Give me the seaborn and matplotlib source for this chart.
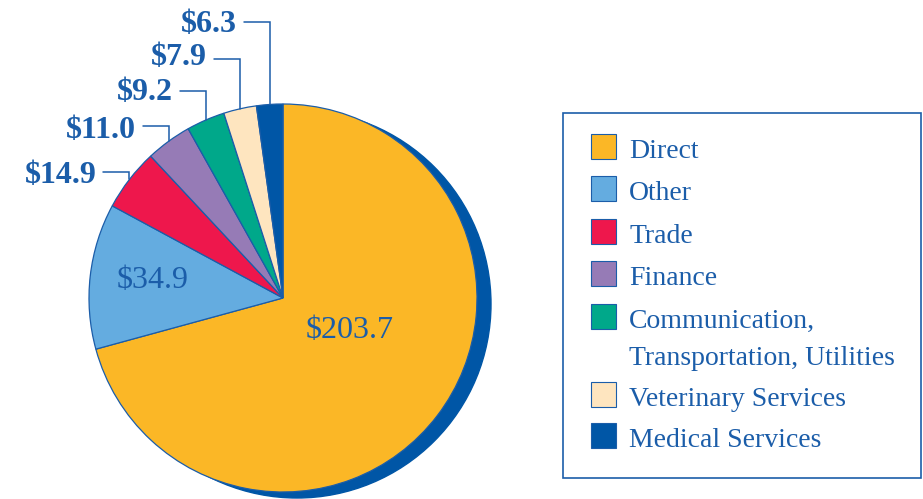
import matplotlib
matplotlib.use("Agg")
import matplotlib.pyplot as plt
from matplotlib.patches import Circle, Rectangle
from matplotlib import font_manager
import numpy as np
import seaborn as sns

# Economic impact by sector (billions of dollars)
sectors = ["Direct", "Other", "Trade", "Finance",
           "Communication, Transportation, Utilities",
           "Veterinary Services", "Medical Services"]
values = [203.7, 34.9, 14.9, 11.0, 9.2, 7.9, 6.3]
value_labels = ["$203.7", "$34.9", "$14.9", "$11.0", "$9.2", "$7.9", "$6.3"]
legend_lines = [["Direct"], ["Other"], ["Trade"], ["Finance"],
                ["Communication,", "Transportation, Utilities"],
                ["Veterinary Services"], ["Medical Services"]]

palette = sns.color_palette(["#FBB726", "#64ACE0", "#EE174C", "#967BB6",
                             "#00A88A", "#FEE5BF", "#0056A6"])
BLUE = "#1B5DA9"
DARK = "#0056A6"

sns.set_theme(style="white")
plt.rcParams["font.family"] = "serif"
plt.rcParams["font.serif"] = ["Liberation Serif", "DejaVu Serif"]
serif_path = font_manager.findfont(font_manager.FontProperties(family="Liberation Serif"))
serif = font_manager.FontProperties(fname=serif_path)
serif_bold_path = font_manager.findfont(
    font_manager.FontProperties(family="Liberation Serif", weight="bold"))
serif_bold = font_manager.FontProperties(fname=serif_bold_path)

W, H = 923, 499
fig = plt.figure(figsize=(W / 100, H / 100), dpi=100)
ax = fig.add_axes([0, 0, 1, 1])


def py(y):
    """Convert a top-down pixel row to axis units."""
    return H - y


cx, cy, r = 283, 298, 194

# drop shadow behind the pie
ax.add_patch(Circle((cx + 14, py(cy + 6)), r, color=DARK, zorder=1))

wedges, _ = ax.pie(values, colors=palette, startangle=90, counterclock=False,
                   center=(cx, py(cy)), radius=r,
                   wedgeprops=dict(edgecolor=BLUE, linewidth=0.9))
for w in wedges:
    w.set_zorder(2)

ax.set_xlim(0, W)
ax.set_ylim(0, H)
ax.set_aspect("equal", adjustable="box")
ax.axis("off")

# values written inside the two largest slices
inside = {0: (350, 330), 1: (153, 281)}
for i, (x, y) in inside.items():
    ax.text(x, py(y), value_labels[i], ha="center", va="center",
            fontproperties=serif, fontsize=23, color=BLUE, zorder=5)

# callouts for the small slices: (label baseline, leader line row)
callouts = {2: (183, 172), 3: (138, 126), 4: (100, 91), 5: (65, 59), 6: (32, 22)}
total = sum(values)
cum = np.cumsum([0] + values)
for i, (base_y, line_y) in callouts.items():
    mid = 90 - (cum[i] + values[i] / 2) / total * 360
    ang = np.deg2rad(mid)
    ex = cx + r * np.cos(ang)
    ey = cy - r * np.sin(ang)
    x0 = ex - 26
    ax.plot([x0, ex, ex], [py(line_y), py(line_y), py(ey)],
            color=BLUE, lw=1.1, solid_joinstyle="miter", zorder=4)
    ax.text(x0 - 7, py(base_y), value_labels[i], ha="right", va="baseline",
            fontproperties=serif_bold, fontsize=23, color=BLUE, zorder=5)

# legend panel
ax.add_patch(Rectangle((563, py(478)), 358, 365, fill=False,
                       edgecolor=BLUE, lw=1.2, zorder=3))
tops = [134, 176, 219, 261, 304, 382, 423]
for color, lines, top in zip(palette, legend_lines, tops):
    ax.add_patch(Rectangle((591, py(top + 25)), 25, 25, facecolor=color,
                           edgecolor=BLUE, lw=0.8, zorder=4))
    for k, line in enumerate(lines):
        ax.text(629, py(top + 24 + 37 * k), line, ha="left", va="baseline",
                fontproperties=serif, fontsize=20, color=BLUE, zorder=5)

fig.savefig("out.png", dpi=100)
